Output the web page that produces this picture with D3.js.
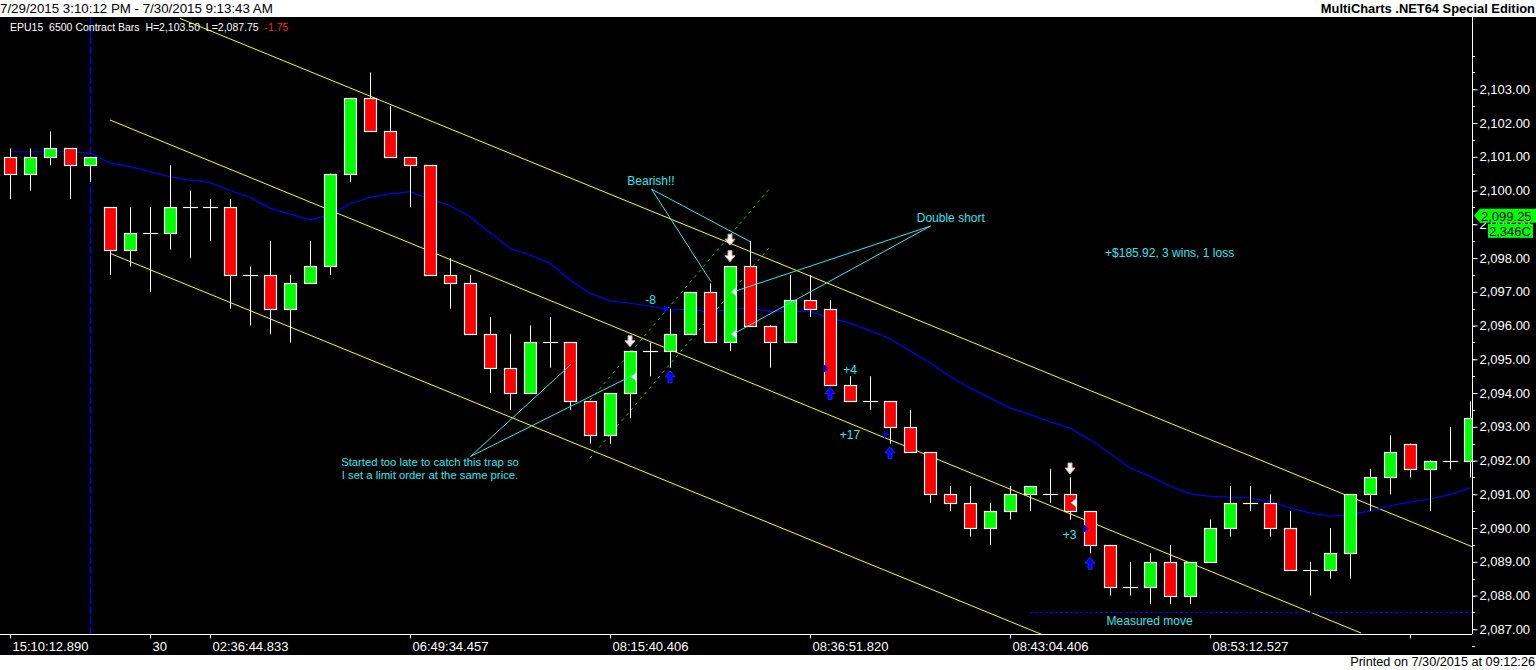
<!DOCTYPE html>
<html>
<head>
<meta charset="utf-8">
<script src="https://cdn.jsdelivr.net/npm/d3@7"></script>
<style>
  body { margin: 0; background: #fff; overflow: hidden; }
  svg { display: block; }
  text { font-family: "Liberation Sans", Arial, sans-serif; }
</style>
</head>
<body>
<script>
// bar data (one entry per bar)
const opens = [2101.0, 2100.5, 2101.0, 2101.25, 2100.75, 2099.5, 2098.25, 2098.75, 2098.75, 2099.5,
  2099.5, 2099.5, 2097.5, 2097.5, 2096.5, 2097.25, 2097.75, 2100.5, 2102.75, 2101.75,
  2101.0, 2100.75, 2097.5, 2097.25, 2095.75, 2094.75, 2094.0, 2095.5, 2095.5, 2093.75,
  2092.75, 2094.0, 2095.25, 2095.25, 2095.75, 2097.0, 2095.5, 2097.75, 2096.0, 2095.5,
  2096.75, 2096.5, 2094.25, 2093.75, 2093.75, 2093.0, 2092.25, 2091.0, 2090.75, 2090.0,
  2090.5, 2091.0, 2091.0, 2091.0, 2090.5, 2089.5, 2088.25, 2088.25, 2089.0, 2088.0,
  2089.0, 2090.0, 2090.75, 2090.75, 2090.0, 2088.75, 2088.75, 2089.25, 2091.0, 2091.5,
  2092.5, 2091.75, 2092.0, 2092.0];
const highs = [2101.25, 2101.25, 2101.75, 2101.25, 2101.0, 2099.5, 2099.5, 2099.5, 2100.75, 2100.0,
  2099.75, 2099.75, 2097.75, 2098.5, 2097.5, 2098.5, 2100.5, 2102.75, 2103.5, 2102.5,
  2101.0, 2100.75, 2098.0, 2097.5, 2096.25, 2095.75, 2096.0, 2096.25, 2095.5, 2093.75,
  2094.0, 2095.25, 2095.5, 2096.5, 2097.0, 2097.25, 2097.75, 2098.5, 2096.0, 2097.5,
  2097.5, 2096.75, 2094.5, 2094.5, 2093.75, 2093.5, 2092.25, 2091.25, 2091.25, 2090.75,
  2091.25, 2091.25, 2091.75, 2091.5, 2090.5, 2089.5, 2089.0, 2089.25, 2089.5, 2089.0,
  2090.25, 2091.25, 2091.25, 2091.0, 2090.5, 2089.0, 2090.0, 2091.0, 2091.75, 2092.75,
  2092.5, 2092.0, 2093.0, 2093.75];
const lows = [2099.75, 2100.0, 2100.75, 2099.75, 2100.25, 2097.5, 2097.75, 2097.0, 2098.25, 2098.0,
  2098.5, 2096.5, 2096.0, 2095.75, 2095.5, 2097.25, 2097.5, 2100.25, 2101.75, 2101.0,
  2099.5, 2097.5, 2096.5, 2095.75, 2094.0, 2093.5, 2094.0, 2094.75, 2093.5, 2092.5,
  2092.5, 2093.25, 2094.5, 2094.75, 2095.75, 2095.5, 2095.25, 2096.0, 2094.75, 2095.5,
  2096.25, 2094.25, 2093.75, 2093.5, 2092.5, 2092.25, 2090.75, 2090.5, 2089.75, 2089.5,
  2090.25, 2090.5, 2090.75, 2090.25, 2089.25, 2088.0, 2088.0, 2087.75, 2087.75, 2087.75,
  2089.0, 2089.75, 2090.5, 2089.75, 2088.75, 2088.0, 2088.5, 2088.5, 2090.5, 2091.0,
  2091.5, 2090.5, 2091.75, 2091.5];
const closes = [2100.5, 2101.0, 2101.25, 2100.75, 2101.0, 2098.25, 2098.75, 2098.75, 2099.5, 2099.5,
  2099.5, 2097.5, 2097.5, 2096.5, 2097.25, 2097.75, 2100.5, 2102.75, 2101.75, 2101.0,
  2100.75, 2097.5, 2097.25, 2095.75, 2094.75, 2094.0, 2095.5, 2095.5, 2093.75, 2092.75,
  2094.0, 2095.25, 2095.25, 2095.75, 2097.0, 2095.5, 2097.75, 2096.0, 2095.5, 2096.75,
  2096.5, 2094.25, 2093.75, 2093.75, 2093.0, 2092.25, 2091.0, 2090.75, 2090.0, 2090.5,
  2091.0, 2091.25, 2091.0, 2090.5, 2089.5, 2088.25, 2088.25, 2089.0, 2088.0, 2089.0,
  2090.0, 2090.75, 2090.75, 2090.0, 2088.75, 2088.75, 2089.25, 2091.0, 2091.5, 2092.25,
  2091.75, 2092.0, 2092.0, 2093.25];

// blue moving average
const maValues = [2101.15, 2101.15, 2101.15, 2101.15, 2101.11, 2100.81, 2100.71, 2100.56, 2100.41, 2100.31,
  2100.24, 2100.0, 2099.80, 2099.48, 2099.30, 2099.13, 2099.28, 2099.60, 2099.80, 2099.90,
  2099.97, 2099.75, 2099.55, 2099.23, 2098.74, 2098.29, 2098.09, 2097.85, 2097.35, 2096.96,
  2096.73, 2096.66, 2096.58, 2096.46, 2096.49, 2096.39, 2096.49, 2096.52, 2096.42, 2096.42,
  2096.42, 2096.22, 2096.07, 2095.85, 2095.61, 2095.25, 2094.89, 2094.49, 2094.15, 2093.85,
  2093.56, 2093.36, 2093.15, 2092.96, 2092.62, 2092.22, 2091.78, 2091.53, 2091.24, 2091.02,
  2090.94, 2090.92, 2090.89, 2090.79, 2090.60, 2090.45, 2090.35, 2090.40, 2090.50, 2090.66,
  2090.77, 2090.86, 2090.99, 2091.19];

// time axis
const timeTickBars = [0, 7, 10, 20, 30, 40, 50, 60, 70];
const timeTickLabels = ["15:10:12.890", "30", "02:36:44.833", "06:49:34.457", "08:15:40.406",
  "08:36:51.820", "08:43:04.406", "08:53:12.527", ""];

// price axis
const priceLabels = d3.range(2087, 2104, 1);
const priceMinor = d3.range(2086.5, 2104.5, 0.5);

// drawn trendlines: [bar1, price1, bar2, price2]
const channelLines = [
  [8.5, 2105.10, 73.1, 2089.45],
  [5, 2102.09, 67.55, 2086.89],
  [5, 2098.14, 51.7, 2086.82]
];
const flagLines = [
  [29, 2093.79, 38, 2100.07],
  [29, 2092.07, 38, 2098.34]
];
const sessionBreakBar = 4;
const measuredMove = { from: 51, to: 73.1, price: 2087.5 };

// trade markers
const shortArrows = [[31, 2095.52], [36, 2098.53], [36, 2098.04], [53, 2091.75]];
const coverArrows = [[33, 2094.48], [41, 2093.99], [44, 2092.23], [54, 2088.96]];
const exitFills = [[33, 2096.5], [41, 2094.73], [44, 2092.78], [54, 2089.99]];
const entryFills = [[31, 2094.48], [36, 2097.0], [36, 2095.75], [53, 2090.75]];

// annotation text and pointer lines
const notes = [
  { text: "Bearish!!", bar: 32.05, price: 2100.28, size: 12 },
  { text: "Double short", bar: 47.04, price: 2099.18, size: 12 },
  { text: "-8", bar: 32.03, price: 2096.76, size: 12 },
  { text: "+4", bar: 42, price: 2094.68, size: 12 },
  { text: "+17", bar: 42, price: 2092.76, size: 12 },
  { text: "+3", bar: 52.98, price: 2089.81, size: 12 },
  { text: "+$185.92, 3 wins, 1 loss", bar: 57.98, price: 2098.15, size: 12 },
  { text: "Measured move", bar: 56.98, price: 2087.25, size: 12 },
  { text: "Started too late to catch this trap so", bar: 21.0, price: 2091.96, size: 11.3 },
  { text: "I set a limit order at the same price.", bar: 21.0, price: 2091.58, size: 11.3 }
];
const pointers = [
  [32.08, 2100.04, 35.05, 2097.30],
  [32.08, 2100.04, 37.03, 2098.48],
  [46.03, 2098.95, 36.17, 2097.0],
  [46.03, 2098.95, 36.17, 2095.75],
  [23.02, 2092.12, 28.05, 2094.85],
  [23.02, 2092.12, 31.08, 2094.51]
];

const lastPrice = 2099.25;
const lastVolume = "2,346C";

const W = 1536, H = 670;
const plot = { left: 0, right: 1472, top: 17, bottom: 634 };

const svg = d3.select("body").append("svg").attr("width", W).attr("height", H);

svg.append("rect").attr("width", W).attr("height", H).attr("fill", "#fff");
svg.append("rect").attr("x", 0).attr("y", plot.top).attr("width", W).attr("height", 655 - plot.top).attr("fill", "#000");

svg.append("defs").append("clipPath").attr("id", "clip")
  .append("rect").attr("x", plot.left).attr("y", plot.top)
  .attr("width", plot.right - plot.left).attr("height", plot.bottom - plot.top);

const xScale = d3.scaleLinear().domain([0, 73]).range([10, 1470]);
const yScale = d3.scaleLinear().domain([2087, 2103]).range([629.3, 89.3]);
const fmt = d3.format(",.2f");

const body = svg.append("g").attr("clip-path", "url(#clip)");

// session break
body.append("line")
  .attr("x1", xScale(sessionBreakBar) + 0.5).attr("x2", xScale(sessionBreakBar) + 0.5)
  .attr("y1", plot.top).attr("y2", plot.bottom)
  .attr("stroke", "#0000ff").attr("stroke-width", 1.5).attr("stroke-dasharray", "7,3");

// regression channel
body.selectAll(".channel").data(channelLines).enter().append("line")
  .attr("class", "channel")
  .attr("x1", (d) => xScale(d[0])).attr("y1", (d) => yScale(d[1]))
  .attr("x2", (d) => xScale(d[2])).attr("y2", (d) => yScale(d[3]))
  .attr("stroke", "#ffff00").attr("stroke-width", 1);

// moving average
body.append("path")
  .datum(maValues)
  .attr("fill", "none").attr("stroke", "#0000ff").attr("stroke-width", 1.2)
  .attr("d", d3.line().x((_, i) => xScale(i)).y((d) => yScale(d)));

// measured move
body.append("line")
  .attr("x1", xScale(measuredMove.from)).attr("x2", xScale(measuredMove.to))
  .attr("y1", Math.round(yScale(measuredMove.price)) + 0.5)
  .attr("y2", Math.round(yScale(measuredMove.price)) + 0.5)
  .attr("stroke", "#0000ff").attr("stroke-width", 1).attr("stroke-dasharray", "3,2");

// flag lines (green dashed)
body.selectAll(".flag").data(flagLines).enter().append("line")
  .attr("class", "flag")
  .attr("x1", (d) => xScale(d[0])).attr("y1", (d) => yScale(d[1]))
  .attr("x2", (d) => xScale(d[2])).attr("y2", (d) => yScale(d[3]))
  .attr("stroke", "#00d000").attr("stroke-width", 1).attr("stroke-dasharray", "3,4");

// candles
const bars = d3.range(opens.length);
const half = 6;

// wicks
body.selectAll(".stem").data(bars).enter().append("line")
  .attr("class", "stem")
  .attr("x1", (i) => Math.round(xScale(i)) + 0.5)
  .attr("x2", (i) => Math.round(xScale(i)) + 0.5)
  .attr("y1", (i) => yScale(highs[i]))
  .attr("y2", (i) => yScale(lows[i]))
  .attr("stroke", "#fff").attr("stroke-width", 1);

// bodies
body.selectAll(".candle").data(bars.filter((i) => opens[i] !== closes[i])).enter().append("rect")
  .attr("class", "candle")
  .attr("x", (i) => Math.round(xScale(i)) - half + 0.5)
  .attr("y", (i) => Math.round(yScale(Math.max(opens[i], closes[i]))) + 0.5)
  .attr("width", half * 2)
  .attr("height", (i) => Math.round(yScale(Math.min(opens[i], closes[i]))) - Math.round(yScale(Math.max(opens[i], closes[i]))))
  .attr("fill", (i) => (opens[i] > closes[i] ? "#ff0000" : "#00ff00"))
  .attr("stroke", "#fff").attr("stroke-width", 1.2);

// dojis
body.selectAll(".doji").data(bars.filter((i) => opens[i] === closes[i])).enter().append("line")
  .attr("class", "doji")
  .attr("x1", (i) => Math.round(xScale(i)) - half - 1)
  .attr("x2", (i) => Math.round(xScale(i)) + half + 2)
  .attr("y1", (i) => Math.round(yScale(opens[i])) + 0.5)
  .attr("y2", (i) => Math.round(yScale(opens[i])) + 0.5)
  .attr("stroke", "#fff").attr("stroke-width", 1.2);

// annotation pointers
body.selectAll(".pointer").data(pointers).enter().append("line")
  .attr("class", "pointer")
  .attr("x1", (d) => xScale(d[0])).attr("y1", (d) => yScale(d[1]))
  .attr("x2", (d) => xScale(d[2])).attr("y2", (d) => yScale(d[3]))
  .attr("stroke", "#33e6f0").attr("stroke-width", 1);

// trade markers
body.selectAll(".short").data(shortArrows).enter().append("path")
  .attr("class", "short")
  .attr("transform", (d) => "translate(" + xScale(d[0]) + "," + yScale(d[1]) + ")")
  .attr("d", "M-2,-6L2,-6L2,-1L5,-1L0,5L-5,-1L-2,-1Z")
  .attr("fill", "#fff").attr("stroke", "#d8a0a0").attr("stroke-width", 1);

body.selectAll(".cover").data(coverArrows).enter().append("path")
  .attr("class", "cover")
  .attr("transform", (d) => "translate(" + xScale(d[0]) + "," + yScale(d[1]) + ")")
  .attr("d", "M0,-6L5,0L2,0L2,6L-2,6L-2,0L-5,0Z")
  .attr("fill", "#0000ff").attr("stroke", "#3030ff").attr("stroke-width", 0.8);

body.selectAll(".exitfill").data(exitFills).enter().append("path")
  .attr("class", "exitfill")
  .attr("transform", (d) => "translate(" + (xScale(d[0]) - half) + "," + yScale(d[1]) + ")")
  .attr("d", "M0,-4L5,0L0,4Z")
  .attr("fill", "#0000ff");

body.selectAll(".entryfill").data(entryFills).enter().append("path")
  .attr("class", "entryfill")
  .attr("transform", (d) => "translate(" + (xScale(d[0]) + half) + "," + yScale(d[1]) + ")")
  .attr("d", "M0,-4L-5,0L0,4Z")
  .attr("fill", "#fff4e8").attr("stroke", "#60e0e8").attr("stroke-width", 0.6);

// annotation text
body.selectAll(".note").data(notes).enter().append("text")
  .attr("class", "note")
  .attr("x", (d) => xScale(d.bar))
  .attr("y", (d) => yScale(d.price))
  .attr("dy", "0.35em")
  .attr("text-anchor", "middle")
  .attr("fill", "#33e6f0")
  .style("font-size", (d) => d.size + "px")
  .text((d) => d.text);

// price axis
const axisX = plot.right;
svg.append("line")
  .attr("x1", axisX + 0.5).attr("x2", axisX + 0.5).attr("y1", plot.top).attr("y2", plot.bottom)
  .attr("stroke", "#fff");

svg.selectAll(".minor").data(priceMinor).enter().append("line")
  .attr("class", "minor")
  .attr("x1", axisX).attr("x2", axisX + 3)
  .attr("y1", (d) => Math.round(yScale(d)) + 0.5).attr("y2", (d) => Math.round(yScale(d)) + 0.5)
  .attr("stroke", "#fff");

const yAxis = d3.axisRight(yScale).tickValues(priceLabels).tickFormat(fmt).tickSize(5).tickPadding(2);
const gY = svg.append("g").attr("transform", "translate(" + (axisX + 0.5) + ",0)").call(yAxis);
gY.select(".domain").remove();
gY.selectAll(".tick line").attr("stroke", "#fff");
gY.selectAll(".tick text").attr("fill", "#fff").style("font-size", "13px").style("font-family", "Liberation Sans, Arial, sans-serif");

// time axis
svg.append("line")
  .attr("x1", 0).attr("x2", axisX).attr("y1", plot.bottom + 0.5).attr("y2", plot.bottom + 0.5)
  .attr("stroke", "#fff");
const xAxis = d3.axisBottom(xScale).tickValues(timeTickBars)
  .tickFormat((d, i) => timeTickLabels[i]).tickSize(4).tickPadding(3);
const gX = svg.append("g").attr("transform", "translate(0," + (plot.bottom + 0.5) + ")").call(xAxis);
gX.select(".domain").remove();
gX.selectAll(".tick line").attr("stroke", "#fff");
gX.selectAll(".tick text").attr("fill", "#fff").attr("text-anchor", "start").attr("dx", "2")
  .style("font-size", "13px").style("font-family", "Liberation Sans, Arial, sans-serif");

// last price marker
const lp = yScale(lastPrice);
svg.append("path")
  .attr("d", "M" + (axisX + 2) + "," + lp + "L" + (axisX + 8) + "," + (lp - 7) + "L" + W + "," + (lp - 7) +
    "L" + W + "," + (lp + 7) + "L" + (axisX + 8) + "," + (lp + 7) + "Z")
  .attr("fill", "#00ff00");
svg.append("text").attr("x", axisX + 9).attr("y", lp).attr("dy", "0.36em")
  .attr("fill", "#000").style("font-size", "13px").text(fmt(lastPrice));
svg.append("rect").attr("x", axisX + 16).attr("y", lp + 8).attr("width", W - axisX - 19).attr("height", 14)
  .attr("fill", "#00ff00");
svg.append("text").attr("x", axisX + 17).attr("y", lp + 15).attr("dy", "0.36em")
  .attr("fill", "#000").style("font-size", "13px").text(lastVolume);

// header / footer
svg.append("text").attr("x", 0).attr("y", 13).attr("fill", "#000").style("font-size", "13.3px")
  .text("7/29/2015 3:10:12 PM - 7/30/2015 9:13:43 AM");
svg.append("text").attr("x", W - 1).attr("y", 13).attr("text-anchor", "end").attr("fill", "#000")
  .style("font-size", "12.9px").style("font-weight", "bold")
  .text("MultiCharts .NET64 Special Edition");
svg.append("text").attr("x", W - 1).attr("y", 666).attr("text-anchor", "end").attr("fill", "#000")
  .style("font-size", "12.7px").text("Printed on 7/30/2015 at 09:12:26");

const info = svg.append("text").attr("x", 10).attr("y", 31).style("font-size", "10.5px").attr("fill", "#fff");
info.append("tspan").text("EPU15  6500 Contract Bars  H=" + fmt(d3.max(highs)) + "  L=" + fmt(d3.min(lows)) + "  ");
info.append("tspan").attr("fill", "#ff2020").text("-1.75");
info.style("white-space", "pre");
</script>
</body>
</html>
